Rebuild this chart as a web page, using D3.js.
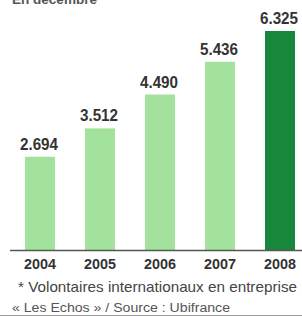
<!DOCTYPE html>
<html>
<head>
<meta charset="utf-8">
<script src="https://cdn.jsdelivr.net/npm/d3@7"></script>
<style>
  html, body { margin: 0; padding: 0; background: #fff; }
  svg { display: block; }
  text { font-family: 'Liberation Sans', Arial, sans-serif; }
</style>
</head>
<body>
<svg id="chart"></svg>
<script>
const years = ['2004', '2005', '2006', '2007', '2008']
const values = [2694, 3512, 4490, 5436, 6325]
const valueLabels = ['2.694', '3.512', '4.490', '5.436', '6.325']

const width = 302
const height = 316
const baseY = 250

const svg = d3.select('#chart')
    .attr('width', width)
    .attr('height', height)

const x = d3.scaleBand()
    .domain(years)
    .range([10, 310])
    .paddingInner(0.5)
    .paddingOuter(0.25)

const y = d3.scaleLinear()
    .domain([0, d3.max(values)])
    .range([baseY, 31])

// title, cut off at top
svg.append('text')
    .attr('x', 12)
    .attr('y', 4)
    .attr('font-size', 13)
    .attr('font-weight', 'bold')
    .attr('fill', '#555')
    .attr('textLength', 85)
    .attr('lengthAdjust', 'spacingAndGlyphs')
    .text('En décembre')

svg.selectAll('rect.bar')
    .data(values)
    .enter()
    .append('rect')
    .attr('class', 'bar')
    .attr('x', (d, i) => x(years[i]))
    .attr('y', d => y(d))
    .attr('width', x.bandwidth())
    .attr('height', d => baseY - y(d))
    .attr('fill', (d, i) => i === years.length - 1 ? '#17873b' : '#a2e29c')

svg.selectAll('text.val')
    .data(values)
    .enter()
    .append('text')
    .attr('class', 'val')
    .attr('x', (d, i) => x(years[i]) + x.bandwidth() / 2 - 1)
    .attr('y', d => y(d) - 7)
    .attr('text-anchor', 'middle')
    .attr('font-size', 16)
    .attr('font-weight', 'bold')
    .attr('fill', '#333')
    .attr('textLength', 38)
    .attr('lengthAdjust', 'spacingAndGlyphs')
    .text((d, i) => valueLabels[i])

// axis
const axis = svg.append('g')
    .attr('transform', `translate(0,${baseY + 0.5})`)
    .call(d3.axisBottom(x).tickSize(0).tickPadding(0))
axis.select('.domain').remove()
axis.append('line')
    .attr('x1', 10)
    .attr('x2', width)
    .attr('stroke', '#555')
    .attr('stroke-width', 1.5)
axis.selectAll('.tick text')
    .attr('y', 18.5)
    .attr('dy', 0)
    .attr('font-size', 14)
    .attr('font-weight', 'bold')
    .attr('fill', '#333')
    .attr('font-family', "'Liberation Sans', Arial, sans-serif")
    .attr('textLength', 32)
    .attr('lengthAdjust', 'spacingAndGlyphs')

svg.append('text')
    .attr('x', 18)
    .attr('y', 292)
    .attr('font-size', 15)
    .attr('fill', '#444')
    .attr('textLength', 279)
    .attr('lengthAdjust', 'spacingAndGlyphs')
    .text('* Volontaires  internationaux en entreprise')

svg.append('text')
    .attr('x', 12)
    .attr('y', 312)
    .attr('font-size', 12.5)
    .attr('fill', '#555')
    .attr('textLength', 218)
    .attr('lengthAdjust', 'spacingAndGlyphs')
    .text('« Les Echos » / Source : Ubifrance')

svg.append('line')
    .attr('x1', 0)
    .attr('x2', width)
    .attr('y1', 315.5)
    .attr('y2', 315.5)
    .attr('stroke', '#999')
    .attr('stroke-width', 1)
</script>
</body>
</html>
